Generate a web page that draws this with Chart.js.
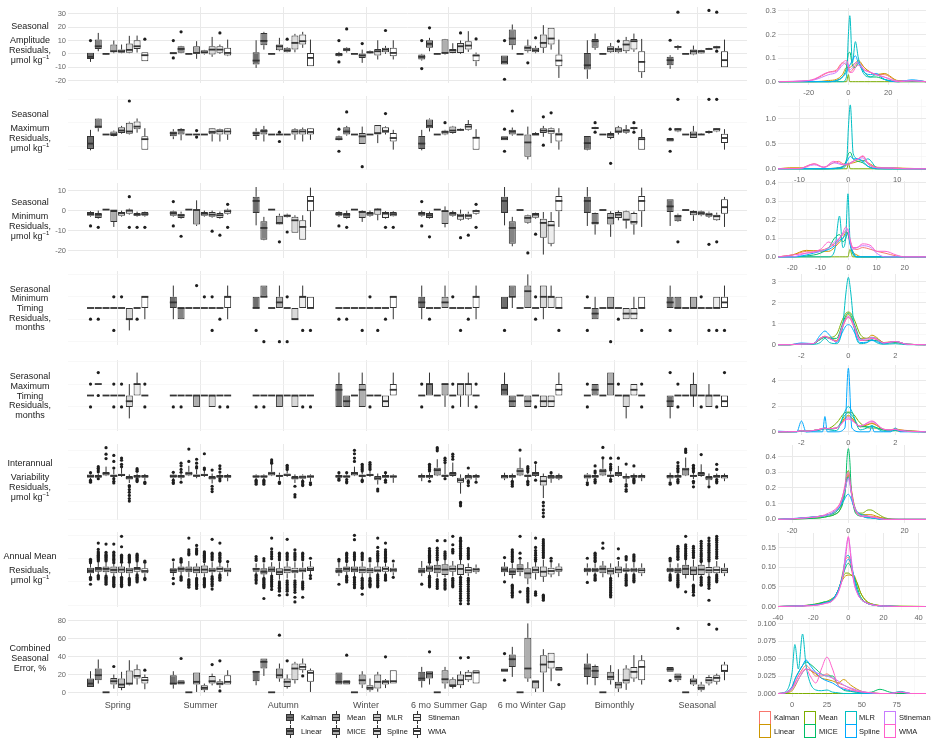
<!DOCTYPE html>
<html>
<head>
<meta charset="utf-8">
<title>Imputation residuals by gap scenario</title>
<script src="https://cdn.jsdelivr.net/npm/chart.js@4.4.1/dist/chart.umd.min.js"></script>
<style>
  body { margin: 0; background: #fff; }
  #page { position: relative; width: 931px; height: 738px; overflow: hidden; font-family: "Liberation Sans", Arial, sans-serif; }
  canvas { position: absolute; }
  .ttl { position: absolute; left: 0; width: 60px; text-align: center; font-size: 9px; line-height: 10px; color: #1a1a1a; white-space: nowrap; }
  .ttl sup { font-size: 6px; line-height: 0; }
  .leg { position: absolute; font-size: 7.5px; line-height: 9px; color: #1a1a1a; white-space: nowrap; }
  .bk { position: absolute; width: 8px; height: 13px; }
  .bk .w { position: absolute; left: 3.5px; top: 0; width: 1px; height: 13px; background: #333; }
  .bk .b { position: absolute; left: 0; top: 3px; width: 6px; height: 5px; border: 1px solid #333; }
  .bk .m { position: absolute; left: 0; top: 5.5px; width: 8px; height: 1.5px; background: #333; }
  .dk { position: absolute; width: 10px; height: 12px; }
</style>
</head>
<body>
<div id="page"></div>
<script>
// categories
const groups = ['Spring', 'Summer', 'Autumn', 'Winter', '6 mo Summer Gap', '6 mo Winter Gap', 'Bimonthly', 'Seasonal'];
const methods = ['Kalman', 'Linear', 'Mean', 'MICE', 'MLR', 'Spline', 'Stineman', 'WMA'];

// boxplot stats: [group][method] = [lower whisker, q1, median, q3, upper whisker]
const ampBox = [
  [[-6,-3.8,-2.2,0.8,0.8],[2,3.7,5.7,10.7,15.7],[-0.5,-0.3,0,0.3,0.5],[0.5,1.2,2,7,10],[0.5,0.8,2,3.2,7],[0.5,0.8,3,7.7,13.5],[1,3.7,5.7,10.2,13.7],[-5.5,-5.5,-1,1.2,1.2]],
  [[0,0,0.5,1.2,1.2],[0.5,0.8,3.7,5.7,6],[-0.3,-0.2,0,0.2,0.3],[-3.7,0,0.7,5.7,9.5],[-0.5,0,1.2,2.7,3],[-2.2,-0.5,3.2,5.7,12.7],[0,0.8,3.2,5.7,7],[-1.7,-1.2,0.7,4.5,10.7]],
  [[-10.5,-8,-5,1.2,10.2],[3.2,6.5,9.7,15.7,16.5],[-0.3,-0.2,0,0.2,0.3],[2,2.7,5.7,7,12],[1,1.2,2.7,4.5,5],[1.2,3.2,8.2,13.7,15],[4.5,7,9.5,14.5,16.5],[-9.2,-9.2,-3,0.7,10.7]],
  [[-2,-1.7,-0.5,0.7,1.5],[1,2,3.2,4.5,5],[0,0,0,0,0],[-6.7,-3,-1.2,0.2,3.2],[0,0.2,1.2,2,2.5],[-4.2,-1.2,2,3.7,10.2],[0,1.2,3.2,4.5,6],[-4.2,-1.7,0.7,4.5,10.2]],
  [[-5,-4.2,-2.2,-0.5,0],[2,4.5,7.5,10.2,12],[-0.3,-0.2,0,0.2,0.3],[-0.5,0,0.7,11,11.2],[0.5,0.7,2.7,3.7,8],[0,0.7,5.7,8.2,10],[1.5,3.2,6.2,9.5,17],[-9.2,-5.5,-1.2,0,1]],
  [[-8,-8,-6,-1.2,-1.2],[3.2,6.5,11.5,18.2,22],[0,0,0,0,0],[1,2,4.5,6.2,10.7],[0.5,1.2,2.7,4.5,6],[0.7,4.5,8.2,14.5,21.5],[3.2,7,11.5,19.5,19.5],[-18,-9.2,-5,-0.5,10.7]],
  [[-18.7,-11.7,-8.5,0.7,10.2],[3,4.5,9.5,11.2,15.2],[-0.3,-0.2,0,0.2,0.3],[0.7,1.2,3.7,5.7,8.2],[0.5,1.2,3.2,4.5,6],[0.5,2,7,10.2,12.7],[1.5,3.2,9.5,11.2,15.2],[-18,-13.7,-6,2,11.2]],
  [[-11.2,-8.5,-4.7,-2.2,-1],[3,4.5,5.2,5.7,6.5],[0,0,0,0,0],[-1,-0.5,2,3.2,6.2],[0,0.2,2,2.7,3],[3,3.2,3.7,4,4.5],[3.5,4,5,5.7,6],[-10,-10,-4.7,2,10.7]]
];
const ampOut = [
  [[10],[],[],[],[],[],[],[11]],
  [[10,-3],[16.5],[],[],[],[],[15.7],[]],
  [[],[],[],[],[11],[],[],[]],
  [[10,-6],[18.7],[],[7.7],[],[],[17.5],[]],
  [[10,-11],[19.5],[],[],[],[15.7],[],[11.2]],
  [[10,-19],[],[],[-6.7],[12],[],[],[]],
  [[],[],[],[],[9.5],[],[],[]],
  [[10.2],[31.2],[],[],[],[32.5],[31.2,2],[]]
];

const maxBox = [
  [[-6.8,-6.2,-3.9,-0.6,2],[1.3,2.7,3.4,6.9,7],[0,0,0,0,0],[-0.8,-0.6,0.1,1.3,1.7],[0.3,0.6,1.7,3.1,3.7],[0,0.3,1.3,5.1,5.5],[0.8,2.3,3.4,5.6,6.9],[-6.5,-6.5,-2,-0.8,2.7]],
  [[-2,-0.8,0.6,1.3,2.3],[-2.5,0,2,2.3,2.7],[0,0,0,0,0],[0,0,0,0,0],[0,0,0,0,0],[-3,0.1,1.1,2.7,2.8],[-3,0,1.4,2.3,2.5],[-2.3,0,1.3,2.7,2.8]],
  [[-2.3,-0.6,0.6,1.3,2.7],[-3,0,1.5,2.3,3.7],[0,0,0,0,0],[0,0,0,0,0],[0,0,0,0,0],[-2.3,0,1.3,2.3,2.7],[-3,0,1.3,2.3,3],[-2.3,0,1.1,2.7,2.8]],
  [[-2.5,-2.3,-2,-0.8,-0.5],[-0.5,0,1.3,3.1,3.7],[0,0,0,0,0],[-4.1,-4.1,-0.8,0.6,3.4],[0,0,0,0,0],[-3.7,0,0.6,4.1,4.1],[0,0.8,1.5,3.1,3.5],[-6.5,-3,-1.5,0.6,2]],
  [[-6.8,-6.2,-3.9,-0.6,2],[1.3,2.7,3.7,6.5,6.9],[0,0,0,0,0],[-0.3,0,1.1,1.7,2],[0.3,0.6,1.7,3.4,3.7],[1.5,1.7,2,2.5,2.7],[1.7,2,3.4,4.5,6.2],[-6.5,-6.5,-1.4,-1.1,2.3]],
  [[-2.5,-2.5,-1.7,-0.8,-0.8],[-0.5,0,1.3,2,3],[0,0,0,0,0],[-10.7,-9.6,-3.4,0,3.4],[-0.3,-0.3,0,0.6,1],[-1,0.6,1.7,2.7,3.7],[-3.7,0.3,1.5,2.7,3],[-6.5,-3,0,0.8,2.7]],
  [[-6.8,-6.5,-3.7,-0.6,-0.6],[2.3,2.4,2.8,3.1,3.3],[0,0,0,0,0],[-2,-1.5,-0.1,0.6,1.3],[0,0.8,1.3,3.1,3.7],[0.3,0.8,1.7,2.3,4.1],[2,2.4,2.8,3.1,3.3],[-6.5,-6.5,-2,-1.1,2.3]],
  [[-3,-3,-2.2,-1.5,-1.5],[1,1.3,2.3,2.7,2.8],[0,0,0,0,0],[-1.5,-1.5,0,1.3,3.7],[0,0,0,0.3,0.5],[0.3,0.6,1.1,1.5,1.7],[1,1.3,2.3,2.7,2.8],[-6.5,-3.7,-1.5,0.3,2.3]]
];
const maxOut = [
  [[],[],[],[],[],[14.4],[],[]],
  [[],[],[],[1.7,-1.1],[],[],[],[]],
  [[],[],[],[1,-3],[],[],[],[]],
  [[2.3,-7.2],[9.7],[],[-13.8],[],[],[9],[]],
  [[],[],[],[5.1],[],[],[],[]],
  [[2.3,-7.2],[10.1],[],[],[],[7.6,-4.6],[9.3],[]],
  [[],[5.1,1],[],[-12.4],[],[],[5.1,1],[]],
  [[2.3,-7.2],[15.1],[],[],[],[15.1],[15.1],[]]
];

const minBox = [
  [[-3,-2.6,-1.7,-0.7,-0.3],[-4,-3.6,-2,-1.2,0],[0.3,0.3,0.5,0.6,0.6],[-8.1,-5.6,0,0,0],[-3,-2.6,-1.2,-0.7,0],[-2,-1.5,0,0.5,1],[-3,-2.6,-2,-1.2,-0.5],[-3,-2.6,-1.7,-0.7,-0.5]],
  [[-3,-2.6,-1.2,-0.3,0],[-4,-3.6,-2.3,-1.5,-0.5],[0.3,0.3,0.5,0.6,0.6],[-7.6,-6.9,0.3,0.5,5.1],[-3,-2.6,-1.5,-0.7,0],[-3.5,-3.1,-2,-0.7,0],[-4,-3.6,-2.3,-1.2,-0.5],[-2,-1.5,-0.3,0.5,1]],
  [[-7.3,-1.2,4.8,6.9,11.7],[-14.7,-14.4,-8.6,-5.3,-3.1],[0.3,0.3,0.5,0.6,0.6],[-7,-6.9,-6.1,-2.5,-1.5],[-3.5,-3.3,-2.5,-2,-1.5],[-11,-11,-4.8,-3.1,-2.3],[-14.4,-14.4,-8.1,-4.8,-2.3],[-8.1,-0.3,4.8,7.3,11.4]],
  [[-3,-2.6,-1.7,-0.7,-0.3],[-4,-3.6,-2,-1.2,0],[0.3,0.3,0.5,0.6,0.6],[-5.6,-3.6,-0.7,0,0.3],[-3,-2.6,-1.5,-0.7,0],[-4.8,-2,0.5,1,1.2],[-4,-3.6,-1.5,-0.7,-0.3],[-3,-2.8,-1.7,-0.7,-0.3]],
  [[-3,-2.6,-1.5,-0.7,0],[-4,-3.6,-2.3,-1.2,-0.5],[0.3,0.3,0.5,0.6,0.6],[-8.3,-6.6,-0.2,0,2.1],[-3,-2.6,-1.5,-0.7,0],[-5,-4.5,-2.6,-1.5,0.5],[-4.5,-4,-2.6,-1.5,-0.5],[-2,-1.5,-0.2,0.2,0.5]],
  [[-7.3,-1.2,4.8,6.9,11.7],[-17.7,-16.4,-8.6,-5.3,-3.1],[0.1,0.1,0.3,0.4,0.4],[-6.5,-6,-3.6,-2.3,-2],[-4,-3.5,-2,-1.2,-1],[-21.8,-13.4,-6.1,-4,-0.7],[-17.7,-16.4,-7.3,-5.1,-0.7],[-8.1,-0.3,4.8,7.3,11.4]],
  [[-7.6,-1.2,4.8,6.9,11.7],[-11.9,-6.9,-6.1,-1.2,-1],[0.1,0.1,0.3,0.4,0.4],[-13,-6.9,-3.6,-1.2,-0.3],[-4.8,-3.6,-2,-0.7,0],[-8.9,-4.8,-4.5,-0.3,0],[-11.9,-6.9,-5.6,-1.2,-0.5],[-8.1,-0.3,4.8,7.3,11.4]],
  [[-7.6,-0.7,2.1,5.6,5.6],[-5.6,-5.3,-2.8,-2,-1.5],[0.1,0.1,0.3,0.4,0.4],[-5.1,-2.3,-0.7,0,0.3],[-2.8,-2.3,-1.2,-0.3,0],[-3.6,-3.1,-2,-1,-0.5],[-5.1,-4.8,-2.8,-2,-1],[-8.1,-1.5,1.7,5.6,6.8]]
];
const minOut = [
  [[-7.6],[-8.3],[],[],[],[6.9,-8.3],[-8.3],[-8.3]],
  [[4.5,-7.6],[-12.7],[],[],[],[-10.2],[-12.2],[3.1,-8.3]],
  [[],[],[],[-15.5],[-10.6],[],[],[]],
  [[-7.6],[-8.3],[],[],[],[],[-8.3],[-8.3]],
  [[4.5,-7.6],[-13],[],[],[],[-13.4],[-12.2],[3.1,-8.3]],
  [[],[],[],[-21],[-11.7],[],[],[]],
  [[],[],[],[],[],[],[],[]],
  [[],[-15.5],[],[],[],[-16.7],[-15.5],[]]
];

const minTimBox = [
  [[0,0,0,0,0],[0,0,0,0,0],[0,0,0,0,0],[0,0,0,0,0],[0,0,0,0,0],[-2,-1,-1,0,0],[0,0,0,0,0],[-1,0,1,1,1]],
  [[-1,0,0.5,1,2],[-1,-1,0,0,0],[0,0,0,0,0],[0,0,0,0,0],[0,0,0,0,0],[0,0,0,0,0],[0,0,0,0,0],[-1,0,1,1,2]],
  [[0,0,0,1,1],[1,1,1,2,2],[0,0,0,0,0],[0,0,0.5,1,2],[0,0,0,0,0],[-1,-1,-1,0,0],[0,0,1,1,2],[0,0,0,1,1]],
  [[0,0,0,0,0],[0,0,0,0,0],[0,0,0,0,0],[0,0,0,0,0],[0,0,0,0,0],[0,0,0,0,0],[0,0,0,0,0],[-1,0,1,1,1]],
  [[-1,0,0.5,1,2],[0,0,0,0,0],[0,0,0,0,0],[0,0,0.5,1,2],[0,0,0,0,0],[0,0,0,0,0],[0,0,0,0,0],[-1,0,1,1,2]],
  [[0,0,0,1,1],[0,1,1,2,2],[0,0,0,0,0],[0,0,1.5,2,3],[0,0,0,0,0],[-1,0,1,2,2],[0,0,1,1,2],[0,0,0,1,1]],
  [[0,0,0,0,0],[-1,-1,-0.5,0,1],[0,0,0,0,0],[0,0,0,1,1],[0,0,0,0,0],[-1,-1,-0.5,0,0],[-1,-1,-0.5,0,1],[0,0,0,1,1]],
  [[0,0,0.5,1,2],[0,0,0,1,1],[0,0,0,0,0],[0,0,0,1,1],[0,0,0,0,0],[0,0,0,0,0],[0,0,0,1,1],[0,0,0.5,1,2]]
];
const minTimOut = [
  [[-1],[-1],[],[1,-2],[1],[],[-1],[]],
  [[],[],[],[2],[1],[1,-2],[-1],[]],
  [[-2],[-3],[],[-3],[-3,1],[],[-2],[-2]],
  [[-1],[-1],[],[-2],[1],[-2],[-1],[]],
  [[],[-1],[],[],[1],[-2],[-1],[]],
  [[-2],[],[],[],[1,-1],[],[],[-2]],
  [[1,-2],[],[],[-3],[-1],[],[],[-2]],
  [[-2],[],[],[],[1],[-2],[-2],[-2]]
];

const maxTimBox = [
  [[0,0,0,0,0],[1,1,1,1,1],[0,0,0,0,0],[0,0,0,0,0],[0,0,0,0,0],[-2,-1,-0.5,0,1],[0,0,1,1,2],[0,0,0,0,0]],
  [[0,0,0,0,0],[0,0,0,0,0],[0,0,0,0,0],[-1,-1,0,0,0],[0,0,0,0,0],[-1,-1,0,0,0],[0,0,0,0,0],[0,0,0,0,0]],
  [[0,0,0,0,0],[0,0,0,0,0],[0,0,0,0,0],[-1,-1,0,0,0],[0,0,0,0,0],[-1,-1,0,0,0],[0,0,0,0,0],[0,0,0,0,0]],
  [[-1,-1,0.5,1,2],[-1,-1,-0.5,0,0],[0,0,0,0,0],[-1,-1,0.5,1,2],[0,0,0,0,0],[0,0,0,0,0],[-1,-1,-0.5,0,0],[0,0,0.5,1,2]],
  [[0,0,0,0,0],[0,0,1,1,2],[0,0,0,0,0],[-1,0,1,1,1],[0,0,0,0,0],[-1,0,1,1,1],[-1,0,1,1,2],[0,0,0,0,0]],
  [[0,0,0.5,1,2],[-1,-1,-0.5,0,0],[0,0,0,0,0],[-1,-1,-0.5,0,0],[0,0,0,0,0],[-1,-1,-0.5,0,0],[-1,-1,-0.5,0,0],[0,0,0.5,1,2]],
  [[0,0,0,0,0],[0,0,0.5,1,1],[0,0,0,0,0],[0,0,1,2,2],[0,0,0,0,0],[-2,-1,0,0,0],[0,0,0.5,1,1],[0,0,0,0,0]],
  [[-2,-1,-0.5,0,0],[0,0,0,0,0],[0,0,0,0,0],[-1,0,0,1,2],[0,0,0,0,0],[-1,-1,0,0,1],[0,0,0,0,0],[-1,-1,-0.5,0,0]]
];
const maxTimOut = [
  [[1,-1],[2,0],[],[1,-1],[1,-1],[],[],[1,-1]],
  [[-1],[-1],[],[],[],[],[-1],[-1]],
  [[-1],[-1],[],[],[],[],[-1],[-1]],
  [[],[],[],[],[-1],[],[],[]],
  [[1,-1],[],[],[],[1,-1],[],[],[1,-1]],
  [[],[],[],[],[-1],[],[],[]],
  [[1,-1],[],[],[],[1],[],[],[1,-1]],
  [[2],[1,-1],[],[],[-1],[],[-1],[2]]
];

const iavBox = [
  [[-3.5,-2,0,2,3.5],[-3,-2,-0.3,1.2,3],[0,0.8,3.1,4.7,11],[-2.5,-0.8,0.2,2,7.8],[-1,0,1.2,2.7,10],[-8,-3.9,-2,0,2],[-2.5,-2,-0.3,1.2,3],[-4.7,-2,-0.3,1.2,2.5]],
  [[-3.5,-2,0,2,3.5],[-4,-2,-0.3,1.2,3],[0,0.8,3.1,5,12],[-2.5,-0.8,0.4,2,7.8],[-1,0,1.2,2.7,7],[-8.6,-3.9,-2,0,3],[-2.5,-2,-0.3,1.2,3],[-6,-2,-0.3,1.2,2.5]],
  [[-3.5,-2,-0.3,0.8,2],[-3.5,-2,-0.3,0.8,2],[0,0.8,3.1,5,14],[-5,-0.8,0.2,1.6,4],[-1,0,1.2,3.1,7],[-8,-3.9,-2,0,2],[-4.7,-3.1,-1,0.8,2],[-6,-2,-0.3,0.8,2]],
  [[-2.5,-2,-0.3,1.2,3],[-3,-2,-0.3,0.8,2],[0,0.8,3.1,4.7,11],[-3.5,-0.8,0.2,2,4.5],[-1,0,1.2,2.7,6.5],[-9.8,-4.7,-2.4,0,3],[-3,-2,-0.3,1.2,3],[-7.8,-2,-0.3,0.8,2]],
  [[-5.9,-2,-0.3,1.2,3],[-3.5,-2,-0.3,1.2,3.5],[0,0.8,7,9.8,19.6],[-2.5,-0.8,0.2,2,15],[-1,0,2.7,4.7,15.7],[-20.4,-7.8,-4.7,-2,2],[-4.5,-3.9,-1,1.2,3],[-5,-2,-0.3,1.2,2.5]],
  [[-4.7,-2.7,-0.3,1.2,3.9],[-4.7,-2,-0.3,1.2,3],[0,0.8,5.9,9,21.6],[-4.7,-0.8,0.2,2,3.9],[-1,0,2.7,4.7,13.7],[-25.5,-11,-5.9,0,3],[-7.8,-3.1,-1,1.2,3],[-4.7,-3.1,-1,1.2,3]],
  [[-5.9,-2.7,-0.3,2,3.5],[-3,-2,-0.3,1.2,3],[0,0.8,5.9,8.6,20.4],[-3,-0.8,0.2,2,5],[-1,0,2.7,4.7,11.8],[-7.8,-3.1,-1,0,3],[-2.5,-2,-0.3,1.2,3],[-5.9,-2.4,-0.3,1.2,3]],
  [[-5.9,-2.7,-0.3,1.2,3.9],[-3,-2,-0.3,1.2,3],[0,0.8,7.8,9.8,21.6],[-3.5,-0.8,0.2,1.6,4],[-1,0,2.7,4.7,13.7],[-11,-4.7,-2,0,3],[-3,-2,-0.3,1.2,3],[-5.9,-2.7,-0.3,1.2,3]]
];
const iavOut = [
  [[4,-4.7,-6.3,-7],[11,9,7,5,-3.1],[33,25.5,20.4],[24,17,9.4,-3,-6,-8],[21,18.4,13.7,11],[-11,-12.5,-15.7,-18.8,-22.4,-26,-29],[8.6,7,5.5,-3.1,-4.7,-6.3],[-7,-8.6]],
  [[4.5,-4.7,-7,-8.6],[15,12,7.8,4.5,-7],[31.4,17],[19.6,15,11,9.4],[26,9.4,7.8],[7,-11.8,-15,-18],[12,8.6,4.7,-3.1,-5.5],[]],
  [[-4.7,-6.3,-7.8,-9.4],[-4.7,-6.3,-7.8,-9.4],[18.8,16.5,15],[-7,-8.6],[12.5,11,9.4,7.8],[-11.8,-21.6,-24.3],[-5.9,-7.8,-9.8,-11],[-7.8,-9.8]],
  [[4,-3.1,-4.7],[4,-4,-6.3,-7.8],[30,26,21,17],[13.7,11.8,9.8,7.8,5.9,-4.7,-6.3],[15.7,13.7,11.8,9.8,7.8],[-15,-17.2],[4,-4.7,-7],[]],
  [[],[13.7,11.8,9.8,7.8,5.9,-6],[33,31.4,29.4],[20.8,18.4,15.7,-3.1],[25.5,22.7,19.6],[-30.6,-32,-34.5],[9.4,-5.9,-7.8,-11],[-7]],
  [[],[-6,-7.8,-9.8,-11.8],[30.2],[11,9,7,5,-6,-7.8,-9.8],[15.7,-4.7],[-30.6,-34.5,-39.2,-43,-47],[4],[]],
  [[-7.8,-9.8],[11.8,5.9,4,-4,-6,-7.8],[33.3,21.2],[20.8,13.7,11,9,7,-4,-6],[20.8],[14,-9.8,-11.8,-15.7,-17.6],[11.8,-3.1,-4.7,-6.3,-7.8],[]],
  [[-7.8,-9.4],[15.7,11.8,9,7,5,-4,-6,-7.8],[31.4,29.4,27.5],[12.5,10.6,9,7,5,-6,-7.8,-12.5],[25],[-12.5],[13.7,7.8,-4,-6,-7.8],[]]
];

const annBox = [
  [[-5.5,-2.6,-0.6,2.3,6],[-4,-1.2,1.2,2.9,7],[-4.5,-1.7,1.2,3.2,7],[-5,-2.6,0.3,3.2,6],[-5,-2,0.6,3.2,6],[-6,-2.6,0,2.3,6],[-3.5,-1.2,1.2,2.9,7],[-6,-2.6,-0.6,1.7,6]],
  [[-5,-2.3,0,1.7,7],[-4.5,-1.2,1.2,3.2,6],[-6,-1.7,0.6,3.2,8],[-5.5,-2.6,0.3,3.2,6],[-5.5,-2.6,0.6,4.1,6],[-4.5,-1.7,0,2.3,7],[-3.5,-1.2,1.2,3.2,6.5],[-5,-1.7,0,2.3,6]],
  [[-3.5,-1.2,1.2,2.3,6],[-6,-3.5,-1.2,1.7,6],[-4.5,-1.7,0.6,3.2,7],[-8,-4.1,-1.5,1.7,7],[-7,-2.6,0.3,3.2,7],[-7,-2.6,-0.6,2.3,7],[-8,-1.7,0,2.3,7],[-3.5,-0.6,1.2,3.2,8]],
  [[-5,-2.6,-0.6,2.3,7],[-4,-1.2,1.2,3.2,6],[-5,-1.7,0.6,3.2,8],[-6,-2.6,0.3,3.2,7],[-6,-2.6,0,2.3,6],[-3.5,-1.7,0,3.2,7],[-3.5,-1.2,1.2,3.2,6],[-4.5,-1.7,0.3,2.3,6]],
  [[-5,-2.6,-0.6,2.3,8],[-4,-1.2,1.7,4.1,6],[-6,-2.6,1.2,4.7,8],[-6,-4.1,0.6,5.2,9],[-5,-1.2,1.2,4.1,8],[-5,-4.1,1.2,5.2,9],[-5,-2.6,0,2.9,6],[-3,-1.7,0.6,2.3,5]],
  [[-5,-1.7,0.6,3.2,7],[-7,-4.1,-1.2,1.7,6],[-5,-1.7,1.2,5.2,9],[-12,-7,-2.6,1.7,7],[-8,-2.6,0.3,3.2,7],[-10,-5.5,-1.2,3.2,9],[-6,-3.5,-0.6,2.3,7],[-5,-1.2,0.6,3.2,6]],
  [[-4.5,-1.7,0.3,2.3,6],[-3.5,-1.7,0.3,2.3,6],[-6,-2.6,1.2,4.1,8],[-6,-3.5,-0.6,2.3,6],[-6,-2.6,0.6,3.2,8],[-3,-1.2,0,1.7,6],[-3.5,-1.7,0.3,2.3,6.5],[-5,-2.6,0,2.3,6]],
  [[-3.5,-1.7,0.3,2.3,6],[-3.5,-2.6,0,2.3,6],[-7,-4.1,1.2,4.7,9],[-9,-4.1,0,3.2,9],[-5,-4.1,0.6,4.7,6.5],[-5,-2.6,0,2.9,7],[-3.5,-2.6,0.3,3.2,8],[-5,-2.6,0,2.3,6]]
];
const annOut = [
  [[6.5,7.5,8.5,9.5,-6,-7,-8,-12],[8,9,10,11,12,13,14,15,16,18,23.5,-4.5,-5.5,-6.5,-7.5],[8,9,10,11,12,13,14,15.5,22.6,-5,-6,-7,-8,-9,-10,-11,-12],[22.6,15.6,14,12.8,11.5,10,9,8,6.5,-6,-7,-8,-9,-10,-11,-12,-13,-14],[29.3,20.3,13,12,11,10,9,8,7,-6,-7,-8,-9,-10,-11,-12,-13,-14],[13,12,11,10,9,8,7,-7,-8,-9,-10,-11,-12.5],[14,13,12,11,10,9,8,-4,-5,-6,-7,-8,-9,-10],[8,7,-7,-8]],
  [[9,-7,-11.5],[7,8,9,10,-5.5,-6.5,-7.5,-8.5],[27.8,17.7,16,14.5,13.3,-8,-9,-10,-11,-12,-13,-14.5],[21.4,18.5,17,16,15,14,-7,-8,-9,-10,-11,-12,-13,-14,-15.6],[16,15,14,13,12,11,10,9,7.5,-7,-8,-9,-10,-11,-12,-13,-14.2],[26.7,14.8,13.5,12,10.5,9,-5.5,-7,-8,-9.5,-11,-12,-13.5,-16.2],[23.5,14.8,13.5,12.5,11,10,8.5,7.5,-4,-5,-6,-7,-8.5],[7.5]],
  [[11.9,10,8.5,-4,-5,-6.5,-8,-9,-11],[10,8,-7,-8,-9,-10,-11,-12,-13,-14,-15,-24.3],[27.8,18.5,16,14,12,10,-5,-6.5,-8,-9.5,-11,-12.5,-14,-16.5],[14.8,13.5,12,10.5,9,-10,-11.5,-13,-14.5,-15.5,-17,-18,-21.5],[26.7,14.8,13.5,12,10.5,9,-9,-10.5,-12,-13.5,-15,-16.5,-18,-21],[17.7,15,13.5,12,10.5,9,-9,-10.5,-12,-13.5,-15,-17,-19,-23.2,-27.2],[14.8,13.5,12,10.5,9,-10,-11.5,-13,-14.5,-16,-23.2],[10.4,-4.5,-7]],
  [[9.5,8,-12],[14.8,13.5,12.5,11,10,8.5,7.5,-5,-6,-7.5,-8.5,-10],[30.1,26.4,15,13.5,12,10.5,9,-6,-7.5,-9,-10.5,-12,-13.5,-15],[14.8,13.5,12,10.5,9,-7,-8.5,-10,-11.5,-13,-14.5,-15.5,-20.6],[10,8,-7,-8.5,-9.5,-11,-12,-13,-14.2],[27.8,19.7,16.2,14.5,13,11.5,10,8,-4,-5.5,-7,-8.5,-10,-11.5,-13,-14.2],[23.5,17.7,16,15,13.5,12.5,11,10,8.5,7.5,-4,-5,-6.5,-7.5,-8.5],[8,-6]],
  [[-11.9],[18.8,17,16,15,14,13,12,11,10,9,8,7,-5,-6,-7.5,-9,-10,-11.5,-13,-14.2],[25.5,19.1,17,15,13,11,9,-8,-9.5,-11,-12.5,-14,-15.6],[25.5,16,14.5,13,11.5,10,-8,-9.5,-11,-12.5,-13.5,-15,-16.2],[29.3,22,18,16.5,15,-7,-8.5,-10,-11.5,-13,-14.2],[27.8,26,25,23.5,22,20.5,19,17.5,16,14.5,13,11.5,10,-6,-7.5,-9,-10.5,-12,-14,-16,-18,-20,-22,-24,-26,-28.7],[19,17.5,16,14.5,13,11.5,10,-7,-8.5,-10,-12,-14,-16,-18,-20,-22,-24,-26,-28.7],[]],
  [[11,-9.9],[17.7,16,15,13.5,12,10.5,9,7.5,-12.8,-14,-15,-16,-17.5,-19,-20,-21.5,-23],[29.3,14.8,10.4,-18.5],[-15.6,-17,-18,-19.5,-20.5,-22,-23,-24.5,-25.5,-27.2],[27.8,19.7,17,15,13,11,9.5,8,-18.5,-20,-21.4],[26.4,24.5,23,21.5,20,18.5,17,15.5,14,12.5,11,-21.4,-22.5,-23.5,-24.5,-25.8],[10.4,8],[]],
  [[10.4,-10.4],[14.8,13.5,12.5,11,10,8.5,7.5,-4,-5,-6.5,-7.5,-8.5],[23.5,19.1],[-7,-8.5,-10,-11.5,-13,-14.5,-16,-17.5,-19,-20.5,-21.5,-23],[18.5,10.4],[11.9,10.5,9,-4,-5.5,-7,-8.5,-10,-11.5,-12.8],[13.3,12,10.5,9,8,-4,-5.5,-7,-8.5,-9.9],[]],
  [[10.4,9,8,-4,-5.5,-6.5,-7.5,-8.5],[20.6,19,18,16.5,15,13.5,12,11,9.5,-4,-5.5,-7,-8.5,-10,-11,-12,-13,-14.2],[29.3,22,20.5,19,17.5,16,14.5,13,11.5,10,-18.5],[20.6,19,17,15.5,14,12.5,11,-12.8,-14,-15,-16,-17.5,-19,-21.4],[25,23,21,19,17,15,13.5,12,10,8.5,7.5,-6,-7.5,-9,-10.5,-12,-12.8],[27.8,25.5,23,21.5,20,18.5,17,15.5,14,12.5,11,9.5,8,-6,-7.5,-9,-10.5,-12,-13.5,-15.5,-25.8],[29.3,27.5,26,24,22,20,18,16,14,12,10.4,-4,-5.5,-7,-8.5,-9.9],[]]
];

const errBox = [
  [[6.3,6.3,10,15.6,23.7],[10,13.7,19.3,26.7,36.7],[0,0,0.3,0.8,0.8],[4.4,8.9,12.6,16.3,20],[2.6,5.2,8.9,15.6,23],[8,8.9,10,24.4,35.9],[8.9,15.6,18.5,25.9,31.1],[3.7,10,13.7,17.4,20]],
  [[4.4,8.9,10,19.3,23.7],[8.9,8.9,11.1,13.7,13.7],[0,0,0.3,0.6,0.6],[0.7,8.9,11.9,22.2,22.2],[0.5,2.6,5.2,8.1,10],[8,10,12.6,18.5,21],[5,8.1,10,12.6,15],[8.9,8.9,11.9,19.3,24.8]],
  [[8.1,12.6,23,23.7,23.7],[18.5,26.7,34.1,37.8,37.8],[0,0,0.3,0.6,0.6],[12,15.6,19.3,26.7,32.2],[4.4,6.3,11.9,15.6,20],[10,13.7,26.7,32.2,34.1],[22,24.8,28.5,32.2,37.8],[0.7,11.9,21.9,24.8,26.7]],
  [[8.9,8.9,11.9,22.2,22.2],[8.9,8.9,11.9,13.7,13.7],[0,0,0.3,0.6,0.6],[5,8.9,13.7,20,23.7],[1,2.6,5.2,8.1,15.6],[1,4.4,11.9,20,23],[5,8.9,11.9,13.7,15],[10,10,12.6,24.8,24.8]],
  [[5.6,12.6,15.6,23,28.5],[8.9,15.6,21.1,23.7,23.7],[0,0,0.3,0.6,0.6],[4.4,10,14.8,24.8,28.5],[4.4,6.3,8.1,14.8,17],[5,8.1,13.7,20,23.7],[11.9,13.7,18.5,23,25],[10,10,22.2,24.8,24.8]],
  [[23,23,24.8,26.7,26.7],[17.4,28.5,37,42.2,50.7],[0,0,0.3,0.6,0.6],[11.9,15.6,26.7,60.7,76.7],[0.7,4.4,11.9,13.7,13.7],[0.7,22.2,31.1,41.5,48.1],[12.6,26.7,34.1,44.1,44.1],[24.1,24.1,25.9,28.5,28.5]],
  [[8.9,17.4,26.7,32.2,43.3],[8.1,16.3,24.1,29.6,31],[0,0,0.3,0.6,0.6],[8.9,13.7,17.4,23,30.4],[0.7,4.4,8.9,11.9,25.9],[3,10,13.7,26.7,30.4],[11.9,15.6,23,28.5,41.5],[8.9,13.7,28.5,35.9,41.5]],
  [[23,23,25.9,28.5,28.5],[11.9,13.7,17.4,21.1,21.1],[0,0,0.3,0.6,0.6],[7.4,8.9,12.6,15.6,19.3],[1,2.6,5.2,8.9,11.9],[8,10,13.7,17.4,19.3],[8.9,11.9,16.3,19.3,21],[13.7,23,24.1,31.1,34.1]]
];
const errOut = [
  [[],[],[],[28.9],[],[],[],[24.8]],
  [[],[37.8],[],[],[],[31.1],[35.2,1.8],[]],
  [[],[],[],[63.7],[35.2],[],[18.5],[]],
  [[],[41.5],[],[],[],[],[39.6],[]],
  [[],[45.2],[],[],[],[38.5],[38.9],[]],
  [[43.3,13.7],[],[],[],[],[],[],[8.9]],
  [[],[],[],[],[],[],[],[]],
  [[13.3],[71.1],[],[],[],[75.6],[70.4],[]]
];

// y tick labels of the boxplot rows
const ampTicks = [-20, -10, 0, 10, 20, 30];
const maxTicks = [-10, 0, 10];
const minTicks = [-20, -10, 0, 10];
const minTimTicks = [-2, 0, 2];
const maxTimTicks = [-2, 0, 2];
const iavTicks = [-40, -20, 0, 20];
const annTicks = [-20, 0, 20];
const errTicks = [0, 20, 40, 60, 80];

// density curves (x grid, then one row of densities per method)
const ampDensX = [-35,-20,-17,-10,-6,-3,-1,0,0.7,2,3.5,5,8,11,14,18,25,32,39];
const ampDens = [
  [0,0.004,0.01,0.04,0.05,0.08,0.07,0.05,0.04,0.05,0.07,0.085,0.06,0.04,0.03,0.03,0.003,0.005,0],
  [0,0,0,0.005,0.01,0.03,0.06,0.06,0.06,0.07,0.08,0.09,0.06,0.04,0.03,0.035,0.005,0.005,0],
  [0,0,0,0,0,0,0,0.03,0,0,0,0,0,0,0,0,0,0,0],
  [0,0,0,0,0.005,0.02,0.06,0.12,0.125,0.07,0.06,0.08,0.04,0.02,0.02,0.01,0,0,0],
  [0,0,0,0,0,0,0.02,0.2,0.28,0.08,0.17,0.1,0.03,0.02,0.03,0.01,0,0.005,0],
  [0,0,0,0,0.005,0.02,0.04,0.06,0.07,0.09,0.11,0.08,0.04,0.03,0.035,0.01,0,0.008,0],
  [0,0.005,0.008,0.03,0.04,0.07,0.08,0.06,0.05,0.06,0.08,0.08,0.05,0.04,0.03,0.02,0.003,0.005,0],
  [0,0.005,0.012,0.04,0.045,0.08,0.09,0.07,0.04,0.04,0.06,0.07,0.05,0.04,0.03,0.02,0,0.003,0]
];
const maxDensX = [-14.4,-12,-10,-7,-5,-3,-2,-1,-0.3,0,0.4,1,2,3,4,6,9,12,15.9];
const maxDens = [
  [0,0.01,0.01,0.1,0.03,0.12,0.15,0.1,0.1,0.1,0.12,0.15,0.2,0.25,0.1,0.02,0.02,0,0],
  [0,0.02,0.02,0,0,0.01,0.02,0.05,0.08,0.1,0.11,0.12,0.15,0.17,0.12,0.03,0.02,0.01,0],
  [0,0,0,0,0,0,0,0,0,0.12,0,0,0,0,0,0,0,0,0],
  [0,0,0,0,0,0,0.02,0.05,0.2,0.3,0.33,0.2,0.15,0.12,0.05,0,0,0,0],
  [0,0,0,0,0,0,0,0.02,0.2,0.8,1.28,0.3,0.2,0.15,0.2,0.01,0,0,0],
  [0,0,0,0,0,0.01,0.02,0.05,0.15,0.2,0.25,0.2,0.2,0.15,0.05,0,0,0,0],
  [0,0.005,0.005,0.08,0.03,0.12,0.1,0.08,0.1,0.1,0.12,0.15,0.2,0.22,0.1,0.02,0.02,0,0],
  [0,0.005,0.005,0.1,0.03,0.15,0.12,0.08,0.08,0.08,0.1,0.15,0.2,0.26,0.12,0.02,0.01,0,0]
];
const minDensX = [-25,-20,-15,-10,-7,-5,-3.2,-2,-1,-0.2,0.5,1.5,3,5,8,10,13,17,20,27.6];
const minDens = [
  [0,0.01,0.03,0.035,0.05,0.07,0.1,0.12,0.14,0.12,0.09,0.05,0.04,0.05,0.04,0.03,0.02,0.005,0,0],
  [0,0.01,0.035,0.03,0.03,0.05,0.08,0.1,0.13,0.13,0.08,0.03,0.01,0,0,0,0,0,0,0],
  [0,0,0,0,0,0,0,0,0,0,0.04,0,0,0,0,0,0,0,0,0],
  [0,0,0.005,0.02,0.05,0.1,0.12,0.08,0.1,0.13,0.08,0.02,0,0,0,0,0,0,0,0],
  [0,0,0,0,0,0.03,0.22,0.05,0.1,0.34,0.1,0.02,0,0,0,0,0,0,0,0],
  [0,0,0.01,0.03,0.04,0.06,0.09,0.1,0.12,0.13,0.07,0.03,0,0,0,0,0,0,0,0],
  [0,0,0.02,0.03,0.05,0.08,0.1,0.12,0.14,0.15,0.09,0.04,0.05,0.06,0.05,0.02,0,0,0,0],
  [0,0.01,0.02,0.04,0.08,0.06,0.1,0.13,0.16,0.14,0.1,0.05,0.05,0.07,0.06,0.03,0.03,0.01,0,0]
];
const minTimDensX = [-3,-2.5,-2,-1.5,-1.2,-1,-0.8,-0.5,-0.25,-0.1,0,0.1,0.25,0.5,0.8,1,1.2,1.5,2,2.5,3.3];
const minTimDens = [
  [0,0,0.05,0.05,0.3,0.4,0.3,0.15,0.8,1.2,1.3,1.2,0.8,0.2,0.2,0.3,0.25,0.08,0.15,0.02,0],
  [0,0,0.03,0.05,0.3,0.38,0.3,0.2,0.9,1.3,1.45,1.3,0.9,0.3,0.3,0.45,0.35,0.1,0.15,0.02,0],
  [0,0,0.02,0.05,0.25,0.35,0.35,0.5,1.2,1.5,1.55,1.5,1.2,0.5,0.3,0.35,0.3,0.1,0.1,0.02,0],
  [0,0,0.02,0.03,0.25,0.35,0.3,0.3,1,1.4,1.5,1.4,1,0.3,0.2,0.2,0.2,0.05,0.12,0.02,0],
  [0,0,0.02,0.02,0.1,0.3,0.1,0.05,0.8,2.5,3.2,2.5,0.8,0.05,0.1,0.25,0.1,0.02,0.05,0,0],
  [0,0,0.08,0.05,0.45,0.65,0.45,0.1,0.6,0.9,0.95,0.9,0.6,0.1,0.12,0.2,0.15,0.05,0.15,0.02,0],
  [0,0,0.03,0.05,0.28,0.38,0.28,0.15,0.9,1.25,1.35,1.25,0.9,0.25,0.28,0.35,0.28,0.08,0.15,0.02,0],
  [0,0,0.03,0.05,0.3,0.4,0.3,0.15,0.85,1.2,1.3,1.2,0.85,0.2,0.22,0.3,0.25,0.08,0.15,0.02,0]
];
const maxTimDensX = [-3,-2.2,-2,-1.8,-1.5,-1.1,-1,-0.9,-0.5,-0.15,0,0.15,0.5,0.9,1,1.1,1.5,1.8,2,2.2,3.3];
const maxTimDens = [
  [0,0.02,0.1,0.05,0.1,0.25,0.3,0.25,0.3,1,1.2,1,0.4,0.65,0.7,0.65,0.2,0.15,0.2,0.15,0],
  [0,0.02,0.08,0.05,0.1,0.25,0.3,0.25,0.3,1.1,1.3,1.1,0.4,0.6,0.65,0.6,0.2,0.15,0.25,0.15,0],
  [0,0.02,0.05,0.05,0.1,0.2,0.25,0.25,0.7,1.5,1.55,1.5,0.7,0.3,0.3,0.3,0.15,0.1,0.1,0.05,0],
  [0,0.02,0.08,0.05,0.1,0.2,0.25,0.2,0.3,1.3,1.5,1.3,0.4,0.4,0.45,0.4,0.15,0.1,0.15,0.1,0],
  [0,0,0.05,0,0.05,0.2,0.3,0.2,0.1,1.6,2,1.6,0.15,0.4,0.5,0.4,0.05,0.05,0.1,0.05,0],
  [0.05,0,0.85,0,0,0,1.2,0,0,0.3,5,0.3,0,0,0.45,0,0,0,0.3,0,0],
  [0,0.02,0.08,0.05,0.1,0.25,0.3,0.25,0.3,0.9,1.1,0.9,0.45,0.75,0.8,0.75,0.2,0.15,0.2,0.1,0],
  [0,0.02,0.08,0.05,0.1,0.25,0.3,0.25,0.3,0.9,1,0.9,0.45,0.8,0.85,0.8,0.2,0.15,0.2,0.1,0]
];
const iavDensX = [-25,-20,-15,-10,-7,-5,-3,-2,-1,-0.5,0,0.5,1,2,3,5,7,8,10,13,18,27.6];
const iavDens = [
  [0,0.003,0.01,0.02,0.03,0.05,0.1,0.15,0.22,0.27,0.29,0.25,0.18,0.08,0.04,0.02,0.02,0.02,0.015,0.005,0,0],
  [0,0.003,0.01,0.02,0.03,0.04,0.08,0.13,0.2,0.25,0.28,0.25,0.2,0.1,0.05,0.03,0.03,0.03,0.02,0.005,0,0],
  [0,0.002,0.005,0.01,0.02,0.03,0.06,0.12,0.22,0.29,0.31,0.27,0.18,0.08,0.04,0.04,0.06,0.06,0.04,0.01,0,0],
  [0,0.002,0.005,0.01,0.02,0.03,0.06,0.1,0.2,0.38,0.45,0.38,0.2,0.07,0.03,0.02,0.01,0.01,0.005,0,0,0],
  [0,0.003,0.01,0.02,0.03,0.04,0.08,0.13,0.2,0.25,0.27,0.24,0.18,0.09,0.05,0.03,0.02,0.01,0.005,0,0,0],
  [0,0.005,0.012,0.02,0.03,0.05,0.08,0.11,0.14,0.155,0.16,0.15,0.13,0.08,0.05,0.02,0.01,0.01,0.005,0,0,0],
  [0,0.003,0.01,0.02,0.03,0.05,0.09,0.14,0.2,0.24,0.26,0.23,0.17,0.09,0.05,0.02,0.02,0.015,0.01,0,0,0],
  [0,0.003,0.01,0.02,0.04,0.06,0.1,0.15,0.24,0.29,0.3,0.26,0.19,0.08,0.04,0.02,0.02,0.015,0.01,0,0,0]
];
const annDensX = [-40,-30,-22,-17,-13,-10,-7,-5,-3,-1.5,0,1.5,3,5,7,10,13,17,22,30,44];
const annDens = [
  [0,0.001,0.003,0.006,0.01,0.015,0.03,0.05,0.09,0.12,0.125,0.1,0.07,0.04,0.02,0.01,0.005,0.002,0.001,0,0],
  [0,0.001,0.003,0.006,0.01,0.015,0.03,0.05,0.07,0.078,0.08,0.08,0.08,0.06,0.035,0.015,0.007,0.003,0.001,0,0],
  [0,0.001,0.004,0.008,0.012,0.018,0.03,0.05,0.075,0.085,0.085,0.08,0.075,0.06,0.035,0.015,0.007,0.003,0.001,0.001,0],
  [0,0.001,0.003,0.007,0.012,0.012,0.03,0.05,0.08,0.1,0.11,0.1,0.08,0.05,0.025,0.01,0.005,0.002,0.001,0,0],
  [0,0.001,0.003,0.005,0.01,0.015,0.03,0.05,0.085,0.125,0.13,0.115,0.08,0.04,0.02,0.01,0.005,0.002,0.001,0,0],
  [0,0.001,0.003,0.005,0.01,0.015,0.03,0.05,0.08,0.11,0.12,0.11,0.075,0.04,0.02,0.01,0.005,0.002,0.001,0,0],
  [0,0.001,0.002,0.004,0.008,0.012,0.025,0.045,0.08,0.14,0.175,0.13,0.07,0.035,0.02,0.01,0.005,0.002,0.001,0,0],
  [0,0.001,0.002,0.004,0.008,0.012,0.025,0.045,0.08,0.125,0.178,0.12,0.065,0.035,0.02,0.01,0.005,0.002,0.001,0,0]
];
const errDensX = [-10,-5,0,2,4.5,7.5,10,13,17,21,25,29,33,37,42,50,57,63,70,78,85,96];
const errDens = [
  [0,0.001,0.008,0.015,0.025,0.035,0.04,0.035,0.025,0.025,0.028,0.022,0.015,0.012,0.007,0.002,0.001,0,0,0.001,0,0],
  [0,0.001,0.004,0.01,0.02,0.03,0.035,0.033,0.028,0.022,0.02,0.018,0.015,0.02,0.012,0.003,0.001,0,0,0.001,0,0],
  [0,0,0,0,0,0,0,0,0,0,0,0,0,0,0,0,0,0,0,0,0,0],
  [0,0.001,0.008,0.02,0.03,0.04,0.045,0.042,0.035,0.028,0.025,0.025,0.012,0.005,0.003,0.001,0.002,0.006,0.002,0,0,0],
  [0,0.002,0.03,0.07,0.035,0.085,0.04,0.015,0.005,0.004,0.005,0.002,0.001,0,0,0,0,0,0,0.003,0,0],
  [0,0.001,0.01,0.02,0.03,0.04,0.048,0.04,0.03,0.022,0.018,0.015,0.01,0.006,0.004,0.001,0,0,0,0.002,0,0],
  [0,0.001,0.006,0.012,0.02,0.03,0.035,0.034,0.03,0.027,0.025,0.022,0.018,0.012,0.008,0.003,0.001,0,0,0.002,0,0],
  [0,0.001,0.008,0.015,0.025,0.032,0.035,0.025,0.015,0.035,0.052,0.035,0.012,0.008,0.005,0.002,0.001,0,0,0.002,0,0]
];
// density tick labels
const densYTicks = [[0, 0.1, 0.2, 0.3], [0, 0.5, 1], [0, 0.1, 0.2, 0.3, 0.4], [0, 1, 2, 3], [0, 2, 4], [0, 0.1, 0.2, 0.3, 0.4], [0, 0.05, 0.1, 0.15], [0, 0.025, 0.05, 0.075, 0.1]];
const densXTicks = [[-20, 0, 20], [-10, 0, 10], [-20, -10, 0, 10, 20], [-2, 0, 2], [-2, 0, 2], [-20, 0, 20], [-40, -20, 0, 20, 40], [0, 25, 50, 75]];

const rowTitles = [
  ['Seasonal', 'Amplitude', 'Residuals,', 'μmol kg<sup>−1</sup>'],
  ['Seasonal', 'Maximum', 'Residuals,', 'μmol kg<sup>−1</sup>'],
  ['Seasonal', 'Minimum', 'Residuals,', 'μmol kg<sup>−1</sup>'],
  ['Serasonal', 'Minimum', 'Timing', 'Residuals,', 'months'],
  ['Serasonal', 'Maximum', 'Timing', 'Residuals,', 'months'],
  ['Interannual', 'Variability', 'Residuals,', 'μmol kg<sup>−1</sup>'],
  ['Annual Mean', 'Residuals,', 'μmol kg<sup>−1</sup>'],
  ['Combined', 'Seasonal', 'Error, %']
];

// styles
const FONT = '"Liberation Sans", Arial, sans-serif';
const greys = ['#6e6e6e', '#848484', '#9a9a9a', '#afafaf', '#c4c4c4', '#d9d9d9', '#ededed', '#ffffff'];
const hues = ['#F8766D', '#CD9600', '#7CAE00', '#00BE67', '#00BFC4', '#00A9FF', '#C77CFF', '#FF61CC'];
Chart.defaults.font.family = FONT;
const PAD = 7; // room above each plot for the top tick label

// panel frames: plot-area top/bottom in px and the axis range
const boxRows = [
  { box: ampBox, out: ampOut, ticks: ampTicks, top: 7, bottom: 83, min: -21.8, max: 35.1 },
  { box: maxBox, out: maxOut, ticks: maxTicks, top: 96, bottom: 170, min: -15.25, max: 16.55 },
  { box: minBox, out: minOut, ticks: minTicks, top: 183, bottom: 258, min: -23.5, max: 13.7 },
  { box: minTimBox, out: minTimOut, ticks: minTimTicks, top: 271, bottom: 345, min: -3.3, max: 3.3 },
  { box: maxTimBox, out: maxTimOut, ticks: maxTimTicks, top: 360, bottom: 431, min: -3.1, max: 3.1 },
  { box: iavBox, out: iavOut, ticks: iavTicks, top: 444, bottom: 520, min: -51, max: 37.3 },
  { box: annBox, out: annOut, ticks: annTicks, top: 532, bottom: 607, min: -31.6, max: 33 },
  { box: errBox, out: errOut, ticks: errTicks, top: 620, bottom: 696, min: -3.8, max: 80.5 }
];
const densRows = [
  { xs: ampDensX, ys: ampDens, top: 8, bottom: 85, min: -0.014, max: 0.3127, xmin: -35.4, xmax: 39, dy: 1 },
  { xs: maxDensX, ys: maxDens, top: 99, bottom: 172, min: -0.064, max: 1.398, xmin: -14.4, xmax: 15.9, dy: 1 },
  { xs: minDensX, ys: minDens, top: 181, bottom: 260, min: -0.017, max: 0.409, xmin: -25.1, xmax: 27.6, dy: 1 },
  { xs: minTimDensX, ys: minTimDens, top: 274, bottom: 348, min: -0.158, max: 3.36, xmin: -3, xmax: 3.31, dy: 0 },
  { xs: maxTimDensX, ys: maxTimDens, top: 365, bottom: 435, min: -0.25, max: 5.25, xmin: -3, xmax: 3.31, dy: 0 },
  { xs: iavDensX, ys: iavDens, top: 445, bottom: 523, min: -0.023, max: 0.473, xmin: -25, xmax: 27.6, dy: 1 },
  { xs: annDensX, ys: annDens, top: 533, bottom: 610, min: -0.0089, max: 0.187, xmin: -40, xmax: 44.2, dy: 2 },
  { xs: errDensX, ys: errDens, top: 620, bottom: 697, min: -0.005, max: 0.105, xmin: -10.1, xmax: 96, dy: 3 }
];

const page = document.getElementById('page');

function addCanvas(left, top, w, h) {
  const c = document.createElement('canvas');
  c.width = w; c.height = h;
  c.style.left = left + 'px'; c.style.top = top + 'px';
  c.style.width = w + 'px'; c.style.height = h + 'px';
  page.appendChild(c);
  return c;
}

// major ticks plus ggplot-style minor breaks half way between them
function tickList(majors, min, max) {
  const step = majors.length > 1 ? majors[1] - majors[0] : 1;
  const list = majors.map(v => ({ value: v }));
  [majors[0] - step / 2, ...majors.map(v => v + step / 2)].forEach(v => {
    if (v > min && v < max) list.push({ value: v, minor: true });
  });
  return list.sort((a, b) => a.value - b.value);
}

function fmt(v, digits) {
  const s = digits ? v.toFixed(digits) : String(Math.round(v));
  return s === '-0' ? '0' : s;
}

const gridColor = c => (c.tick && c.tick.minor ? '#f3f3f3' : '#e9e9e9');
const gridWidth = c => (c.tick && c.tick.minor ? 0.6 : 1);

function yAxis(min, max, majors, digits, width) {
  const list = tickList(majors, min, max);
  return {
    type: 'linear', min, max,
    afterBuildTicks: s => { s.ticks = list.map(t => ({ ...t })); },
    afterFit: s => { s.width = width; s.paddingTop = 0; s.paddingBottom = 0; },
    grid: { color: gridColor, lineWidth: gridWidth, drawTicks: false },
    border: { display: false },
    ticks: { padding: 2, color: '#666', font: { size: 7.5 }, callback: (v, i, t) => (t[i].minor ? '' : fmt(v, digits)) }
  };
}

// whiskers under the boxes, medians and outliers on top, all through the y scale
const boxParts = {
  id: 'boxParts',
  beforeDatasetsDraw(chart) { drawParts(chart, false); },
  afterDatasetsDraw(chart) { drawParts(chart, true); }
};
function drawParts(chart, top) {
  const ctx = chart.ctx, y = chart.scales.y;
  chart.data.datasets.forEach((ds, i) => {
    chart.getDatasetMeta(i).data.forEach((bar, j) => {
      const s = ds.stats[j], half = bar.width / 2;
      ctx.save();
      ctx.strokeStyle = '#333';
      if (!top) {
        ctx.lineWidth = 1;
        ctx.beginPath();
        ctx.moveTo(bar.x, y.getPixelForValue(s[0])); ctx.lineTo(bar.x, y.getPixelForValue(s[1]));
        ctx.moveTo(bar.x, y.getPixelForValue(s[3])); ctx.lineTo(bar.x, y.getPixelForValue(s[4]));
        ctx.stroke();
      } else {
        const my = y.getPixelForValue(s[2]);
        ctx.lineWidth = 1.8;
        ctx.beginPath(); ctx.moveTo(bar.x - half, my); ctx.lineTo(bar.x + half, my); ctx.stroke();
        ctx.fillStyle = '#1e1e1e';
        ds.outliers[j].forEach(v => {
          ctx.beginPath(); ctx.arc(bar.x, y.getPixelForValue(v), 1.6, 0, Math.PI * 2); ctx.fill();
        });
      }
      ctx.restore();
    });
  });
}

function boxChart(row, last) {
  const h = row.bottom - row.top + PAD + (last ? 16 : 0);
  const cv = addCanvas(40, row.top - PAD, 707, h);
  const datasets = methods.map((m, i) => ({
    label: m,
    data: groups.map((g, j) => ({ x: j + 1, y: [row.box[j][i][1], row.box[j][i][3]] })),
    stats: groups.map((g, j) => row.box[j][i]),
    outliers: groups.map((g, j) => row.out[j][i]),
    backgroundColor: greys[i], borderColor: '#333', borderWidth: 1, borderSkipped: false,
    categoryPercentage: 0.75, barPercentage: 0.9
  }));
  new Chart(cv, {
    type: 'bar',
    data: { datasets },
    plugins: [boxParts],
    options: {
      responsive: false, devicePixelRatio: 1, animation: false, events: [],
      layout: { padding: { top: PAD }, autoPadding: false },
      plugins: { legend: { display: false }, tooltip: { enabled: false } },
      scales: {
        x: {
          type: 'linear', min: 0.4, max: 8.6, offset: false,
          afterBuildTicks: s => { s.ticks = groups.map((g, j) => ({ value: j + 1 })); },
          afterFit: s => { s.height = last ? 16 : 0; s.paddingLeft = 0; s.paddingRight = 0; },
          grid: { color: '#e9e9e9', offset: false, drawTicks: false },
          border: { display: false },
          ticks: { display: last, padding: 4, maxRotation: 0, autoSkip: false, color: '#4d4d4d', font: { size: 9 }, callback: v => groups[v - 1] }
        },
        y: yAxis(row.min, row.max, row.ticks, 0, 28)
      }
    }
  });
}

function densChart(row, k) {
  const cv = addCanvas(758, row.top - PAD, 173, row.bottom - row.top + PAD + 13);
  const xList = tickList(densXTicks[k], row.xmin, row.xmax);
  new Chart(cv, {
    type: 'line',
    data: {
      datasets: methods.map((m, i) => ({
        label: m,
        data: row.xs.map((x, n) => ({ x, y: row.ys[i][n] })),
        borderColor: hues[i], borderWidth: 1, pointRadius: 0, fill: false,
        cubicInterpolationMode: 'monotone', order: 8 - i
      }))
    },
    options: {
      responsive: false, devicePixelRatio: 1, animation: false, events: [],
      layout: { padding: { top: PAD, right: 5 }, autoPadding: false },
      plugins: { legend: { display: false }, tooltip: { enabled: false } },
      scales: {
        x: {
          type: 'linear', min: row.xmin, max: row.xmax,
          afterBuildTicks: s => { s.ticks = xList.map(t => ({ ...t })); },
          afterFit: s => { s.height = 13; s.paddingLeft = 0; s.paddingRight = 0; },
          grid: { color: gridColor, lineWidth: gridWidth, drawTicks: false },
          border: { display: false },
          ticks: { padding: 3, maxRotation: 0, autoSkip: false, color: '#666', font: { size: 7.5 }, callback: (v, i, t) => (t[i].minor ? '' : fmt(v, 0)) }
        },
        y: yAxis(row.min, row.max, densYTicks[k], row.dy, 20)
      }
    }
  });
}

// density panels first so the boxplot canvases sit on top where they touch
densRows.forEach((r, k) => densChart(r, k));
boxRows.forEach((r, k) => boxChart(r, k === boxRows.length - 1));

// row titles
boxRows.forEach((r, k) => {
  const lines = rowTitles[k];
  const unit = lines[lines.length - 1].indexOf('μmol') === 0;
  const pos = lines.map((l, n) => (unit ? (n === 0 ? 0 : 4 + n * 10) : n * 9.7));
  const mid = (pos[0] + pos[pos.length - 1]) / 2 + (unit ? 2 : 0);
  const centre = (r.top + r.bottom) / 2;
  lines.forEach((l, n) => {
    const d = document.createElement('div');
    d.className = 'ttl';
    d.style.top = (centre + pos[n] - mid - 5) + 'px';
    d.innerHTML = l;
    page.appendChild(d);
  });
});

// legends (two rows, four columns each)
const legRows = [717.5, 731];
const boxKeyX = [286, 332, 373, 413];
const boxTextX = [301, 347, 387, 428];
const densKeyX = [759, 804, 845, 884];
const densTextX = [774, 819, 859, 899];
methods.forEach((m, i) => {
  const col = Math.floor(i / 2), r = i % 2, cy = legRows[r];
  const k = document.createElement('div');
  k.className = 'bk';
  k.style.left = boxKeyX[col] + 'px'; k.style.top = (cy - 6.5) + 'px';
  k.innerHTML = '<div class="w"></div><div class="b" style="background:' + greys[i] + '"></div><div class="m"></div>';
  page.appendChild(k);
  const t = document.createElement('div');
  t.className = 'leg'; t.textContent = m;
  t.style.left = boxTextX[col] + 'px'; t.style.top = (cy - 4.5) + 'px';
  page.appendChild(t);

  const dk = document.createElement('div');
  dk.className = 'dk';
  dk.style.border = '1px solid ' + hues[i];
  dk.style.left = densKeyX[col] + 'px'; dk.style.top = (cy - 7) + 'px';
  page.appendChild(dk);
  const dt = document.createElement('div');
  dt.className = 'leg'; dt.textContent = m;
  dt.style.left = densTextX[col] + 'px'; dt.style.top = (cy - 4.5) + 'px';
  page.appendChild(dt);
});
</script>
</body>
</html>
